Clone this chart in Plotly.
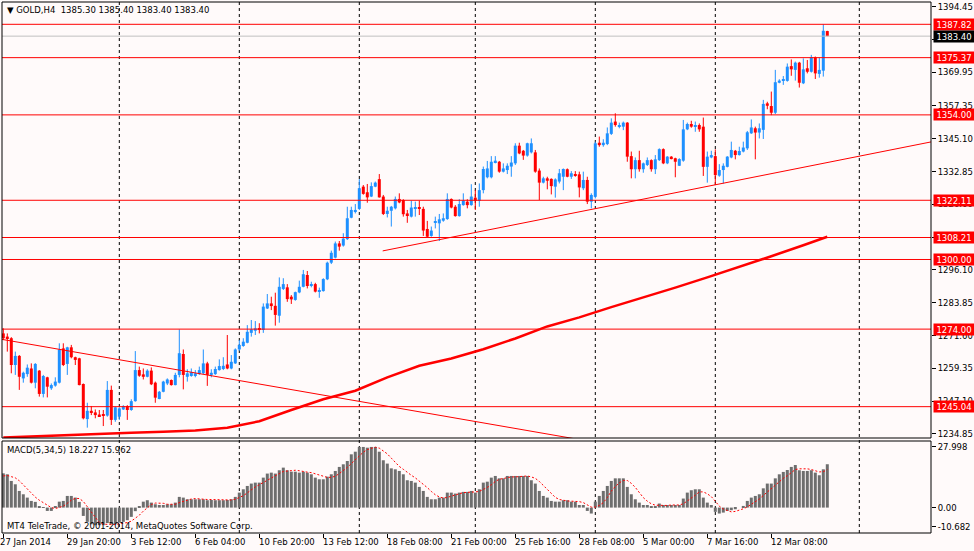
import plotly.graph_objects as go

# ---------------- DATA ----------------
opens = [1272.4, 1271.2, 1270.6, 1260.6, 1264.0, 1255.6, 1257.2, 1259.3, 1254.0, 1258.5,
         1249.8, 1256.0, 1251.9, 1252.9, 1254.0, 1266.8, 1261.0, 1267.2, 1263.5, 1263.1,
         1253.5, 1240.4, 1243.5, 1242.9, 1242.1, 1242.1, 1241.7, 1251.3, 1240.1, 1241.3,
         1244.0, 1245.3, 1243.8, 1247.1, 1258.7, 1257.1, 1256.2, 1258.5, 1254.0, 1247.9,
         1250.6, 1253.7, 1255.0, 1253.1, 1256.9, 1264.7, 1256.2, 1256.5, 1256.5, 1257.2,
         1257.5, 1261.2, 1256.9, 1257.2, 1258.7, 1259.1, 1260.8, 1259.3, 1261.2, 1266.4,
         1267.7, 1268.9, 1272.6, 1273.4, 1274.3, 1273.7, 1281.7, 1283.6, 1282.7, 1279.0,
         1289.0, 1289.6, 1286.1, 1284.9, 1287.7, 1289.8, 1294.2, 1290.1, 1290.8, 1288.0,
         1288.2, 1292.6, 1298.8, 1300.7, 1306.0, 1305.2, 1307.6, 1315.6, 1318.1, 1318.9,
         1327.2, 1325.1, 1323.5, 1327.2, 1330.0, 1323.5, 1317.0, 1318.2, 1319.1, 1322.6,
         1322.2, 1317.2, 1316.0, 1319.1, 1319.1, 1318.9, 1311.4, 1308.8, 1313.8, 1313.5,
         1314.5, 1315.1, 1322.6, 1319.7, 1316.2, 1320.3, 1321.6, 1320.3, 1323.1, 1321.9,
         1325.9, 1330.7, 1330.7, 1336.2, 1336.5, 1332.8, 1333.4, 1334.7, 1335.9, 1342.5,
         1340.6, 1338.8, 1340.0, 1340.0, 1333.2, 1328.7, 1330.3, 1330.1, 1327.2, 1329.1,
         1330.9, 1333.7, 1330.9, 1331.8, 1331.8, 1326.6, 1329.7, 1321.6, 1323.4, 1343.6,
         1342.7, 1343.1, 1346.9, 1351.5, 1349.6, 1349.6, 1351.1, 1338.6, 1333.7, 1337.1,
         1333.7, 1335.3, 1337.1, 1333.7, 1337.1, 1341.2, 1335.9, 1338.4, 1337.8, 1335.0,
         1336.9, 1348.6, 1350.6, 1349.6, 1350.2, 1349.6, 1334.6, 1338.1, 1338.6, 1331.3,
         1333.4, 1334.6, 1338.1, 1340.6, 1339.0, 1340.3, 1341.5, 1347.1, 1349.0, 1347.4,
         1348.4, 1358.3, 1357.3, 1354.8, 1366.0, 1366.7, 1366.7, 1372.2, 1370.8, 1373.5,
         1365.8, 1371.4, 1370.1, 1375.5, 1369.3, 1370.5, 1385.3]

highs = [1274.3, 1272.4, 1271.0, 1265.6, 1264.3, 1258.1, 1260.8, 1261.2, 1261.3, 1258.7,
         1256.9, 1256.2, 1253.7, 1256.0, 1268.7, 1268.7, 1267.4, 1268.1, 1263.7, 1263.3,
         1253.7, 1246.5, 1245.3, 1244.0, 1243.8, 1243.8, 1254.6, 1252.9, 1245.0, 1244.8,
         1245.6, 1245.6, 1247.8, 1265.8, 1260.0, 1259.3, 1259.0, 1259.7, 1254.4, 1250.9,
         1254.7, 1255.6, 1255.2, 1257.7, 1273.9, 1266.4, 1259.0, 1259.3, 1258.7, 1260.0,
         1266.4, 1261.8, 1259.0, 1260.0, 1262.7, 1263.5, 1271.8, 1264.3, 1266.8, 1269.9,
         1270.6, 1275.5, 1277.4, 1277.0, 1276.2, 1283.6, 1287.1, 1286.1, 1287.6, 1293.3,
         1293.0, 1290.8, 1286.7, 1288.0, 1292.1, 1296.1, 1295.7, 1291.7, 1291.3, 1289.5,
         1293.0, 1299.2, 1303.3, 1306.7, 1306.9, 1309.8, 1319.7, 1319.7, 1320.7, 1330.0,
         1327.8, 1328.2, 1328.8, 1329.1, 1331.9, 1324.1, 1319.7, 1320.0, 1323.5, 1324.7,
         1322.5, 1318.5, 1322.0, 1321.6, 1322.0, 1319.7, 1314.4, 1312.3, 1316.0, 1317.0,
         1317.2, 1324.7, 1322.8, 1320.3, 1322.5, 1324.7, 1322.5, 1328.1, 1325.9, 1328.4,
         1334.7, 1336.8, 1338.6, 1338.6, 1336.8, 1335.9, 1335.9, 1338.6, 1343.4, 1343.6,
         1340.9, 1343.6, 1345.2, 1340.9, 1334.0, 1330.9, 1330.9, 1330.3, 1330.3, 1333.8,
         1334.0, 1334.0, 1333.0, 1333.0, 1332.8, 1332.8, 1330.9, 1324.7, 1344.0, 1345.9,
         1344.9, 1349.3, 1352.7, 1354.6, 1351.1, 1351.5, 1351.3, 1340.3, 1338.1, 1340.6,
         1336.2, 1338.1, 1337.4, 1339.0, 1341.5, 1341.5, 1338.6, 1338.6, 1338.0, 1337.8,
         1352.1, 1351.1, 1351.8, 1351.5, 1350.8, 1353.0, 1340.3, 1340.6, 1341.1, 1335.6,
         1335.9, 1338.6, 1344.0, 1340.9, 1342.1, 1344.0, 1348.0, 1352.3, 1349.6, 1350.8,
         1359.6, 1358.9, 1362.7, 1370.8, 1367.3, 1368.5, 1373.2, 1374.7, 1373.9, 1373.8,
         1375.1, 1374.5, 1376.4, 1375.8, 1375.4, 1387.8, 1385.4]

lows = [1269.9, 1265.6, 1257.5, 1256.9, 1251.3, 1254.0, 1256.2, 1253.7, 1251.9, 1248.8,
        1248.5, 1248.5, 1251.3, 1252.5, 1253.7, 1260.2, 1256.9, 1263.1, 1260.6, 1253.0,
        1240.3, 1237.2, 1241.9, 1240.7, 1241.3, 1237.8, 1241.3, 1238.2, 1239.4, 1240.1,
        1243.8, 1240.1, 1243.5, 1246.9, 1256.2, 1255.2, 1256.0, 1253.1, 1246.5, 1247.8,
        1250.4, 1253.1, 1252.9, 1253.0, 1256.0, 1251.5, 1254.4, 1256.2, 1256.0, 1256.9,
        1257.2, 1252.8, 1256.0, 1256.9, 1258.5, 1258.7, 1259.0, 1259.0, 1261.0, 1265.9,
        1267.4, 1268.7, 1271.2, 1271.8, 1272.4, 1272.6, 1281.5, 1281.1, 1275.3, 1276.4,
        1288.6, 1284.2, 1283.4, 1284.6, 1287.4, 1289.6, 1289.2, 1289.6, 1287.7, 1285.7,
        1288.0, 1292.3, 1298.3, 1300.4, 1303.3, 1304.8, 1307.3, 1315.4, 1317.2, 1318.5,
        1324.2, 1321.2, 1323.3, 1327.0, 1323.1, 1316.6, 1315.7, 1312.3, 1318.7, 1321.0,
        1316.0, 1313.7, 1315.7, 1316.0, 1316.6, 1308.8, 1308.3, 1308.5, 1311.6, 1306.9,
        1314.1, 1314.8, 1319.1, 1316.0, 1316.0, 1320.1, 1319.1, 1320.1, 1318.5, 1319.7,
        1324.7, 1330.3, 1330.3, 1335.9, 1332.4, 1332.5, 1331.9, 1330.9, 1335.3, 1339.3,
        1337.2, 1338.4, 1339.6, 1332.4, 1322.2, 1328.4, 1326.2, 1324.3, 1323.1, 1328.4,
        1325.9, 1330.7, 1330.1, 1330.9, 1323.2, 1325.9, 1320.7, 1319.1, 1322.8, 1342.1,
        1342.1, 1342.7, 1346.5, 1349.6, 1349.0, 1348.3, 1336.5, 1330.3, 1330.3, 1332.8,
        1332.4, 1334.9, 1332.8, 1331.9, 1336.8, 1335.6, 1335.6, 1337.4, 1330.7, 1334.9,
        1336.5, 1348.3, 1349.2, 1347.7, 1347.7, 1331.2, 1328.7, 1337.8, 1327.8, 1330.9,
        1328.4, 1334.4, 1337.8, 1337.4, 1338.8, 1340.0, 1340.9, 1346.9, 1337.4, 1345.2,
        1345.0, 1356.1, 1353.9, 1354.3, 1365.8, 1365.2, 1366.4, 1368.6, 1366.8, 1364.2,
        1365.5, 1369.5, 1369.8, 1367.4, 1367.9, 1368.3, 1383.4]

closes = [1270.6, 1270.6, 1260.6, 1264.0, 1256.2, 1257.7, 1259.6, 1254.0, 1261.0, 1249.8,
          1256.5, 1252.5, 1253.1, 1254.4, 1266.4, 1260.6, 1267.2, 1263.5, 1262.5, 1253.1,
          1240.7, 1243.5, 1242.8, 1241.9, 1241.5, 1241.7, 1251.3, 1240.1, 1244.8, 1244.4,
          1245.3, 1243.8, 1247.1, 1258.7, 1256.6, 1256.2, 1258.5, 1253.4, 1248.4, 1250.6,
          1254.4, 1255.2, 1253.1, 1256.9, 1265.0, 1256.9, 1257.5, 1257.9, 1257.5, 1258.7,
          1261.2, 1256.9, 1257.7, 1259.1, 1260.2, 1260.3, 1259.3, 1261.8, 1266.4, 1268.1,
          1269.3, 1273.0, 1273.9, 1274.3, 1273.7, 1282.4, 1283.6, 1282.6, 1279.3, 1289.8,
          1290.8, 1285.2, 1285.1, 1287.8, 1289.8, 1294.5, 1290.1, 1290.8, 1288.0, 1288.6,
          1292.7, 1298.8, 1302.5, 1306.0, 1304.8, 1307.8, 1315.4, 1318.5, 1318.5, 1326.6,
          1324.5, 1323.2, 1327.4, 1328.7, 1323.2, 1317.0, 1318.2, 1319.7, 1322.6, 1321.3,
          1316.9, 1316.6, 1319.4, 1319.5, 1318.9, 1310.8, 1308.5, 1310.8, 1314.1, 1315.0,
          1315.4, 1322.6, 1319.4, 1316.2, 1320.7, 1322.0, 1320.3, 1323.5, 1321.9, 1325.9,
          1333.8, 1334.0, 1336.5, 1336.9, 1332.8, 1334.0, 1335.0, 1336.2, 1342.5, 1339.6,
          1338.8, 1343.4, 1343.4, 1332.8, 1328.7, 1330.3, 1329.4, 1327.4, 1329.9, 1332.2,
          1333.8, 1330.9, 1332.2, 1331.2, 1326.9, 1329.7, 1321.6, 1324.1, 1343.4, 1342.7,
          1343.6, 1347.1, 1351.1, 1350.2, 1350.2, 1351.1, 1338.4, 1333.7, 1337.1, 1333.7,
          1335.9, 1337.1, 1333.7, 1337.4, 1341.2, 1335.9, 1338.4, 1337.5, 1336.5, 1337.5,
          1348.6, 1350.6, 1349.6, 1350.2, 1348.6, 1334.6, 1338.4, 1339.0, 1331.5, 1333.4,
          1335.0, 1338.4, 1340.9, 1339.0, 1340.5, 1341.8, 1347.5, 1349.3, 1347.4, 1349.0,
          1358.1, 1357.4, 1354.8, 1366.2, 1366.8, 1367.3, 1372.0, 1371.0, 1373.5, 1366.0,
          1371.0, 1370.1, 1375.5, 1369.5, 1370.8, 1385.4, 1383.4]

macd_hist = [14.4, 14.0, 11.2, 9.8, 7.0, 5.6, 4.2, 2.8, 2.4, 0.3,
             0.2, -1.4, -1.4, 0.3, 2.5, 2.8, 4.9, 4.9, 4.2, 2.4,
             -3.5, -6.0, -7.0, -7.4, -7.4, -7.4, -6.5, -7.0, -7.0, -6.3,
             -6.0, -5.3, -3.9, -1.5, 0.5, 2.5, 3.1, 2.1, 1.4, 1.1,
             1.1, 1.4, 1.4, 2.1, 4.5, 4.2, 3.5, 3.5, 3.5, 3.5,
             3.5, 3.1, 3.2, 3.1, 3.1, 3.1, 3.2, 3.5, 4.5, 6.3,
             7.7, 9.1, 10.1, 10.5, 10.5, 12.6, 14.3, 14.7, 14.3, 15.7,
             16.8, 15.7, 15.1, 15.1, 14.7, 15.1, 14.7, 14.0, 12.6, 11.9,
             11.9, 13.0, 14.0, 15.4, 17.1, 18.2, 19.6, 22.4, 23.5, 25.5,
             25.5, 25.2, 25.5, 25.5, 23.5, 19.9, 18.5, 16.5, 16.1, 15.4,
             14.0, 11.5, 11.2, 10.5, 8.7, 7.0, 4.5, 3.5, 3.5, 4.2,
             4.2, 6.3, 6.3, 5.9, 6.3, 6.6, 6.6, 7.0, 6.3, 7.7,
             10.5, 10.9, 12.6, 13.3, 12.3, 12.3, 13.3, 13.3, 13.3, 13.3,
             13.3, 13.3, 11.5, 10.1, 7.0, 4.9, 4.2, 2.8, 2.5, 2.5,
             3.1, 3.1, 2.5, 2.5, 1.1, 1.1, -1.4, -2.5, 2.5, 4.9,
             7.0, 9.1, 11.2, 12.3, 12.3, 12.3, 8.7, 5.6, 3.5, 2.1,
             1.1, 1.1, 0.3, 0.3, 1.7, 1.1, 1.1, 1.1, 1.1, 1.1,
             3.8, 6.3, 7.3, 7.7, 7.7, 4.2, 2.1, 1.1, -1.8, -2.5,
             -2.1, -1.4, -1.1, -0.7, 0.0, 0.7, 2.8, 4.2, 4.9, 5.6,
             8.1, 10.1, 10.1, 12.3, 14.0, 15.0, 15.8, 17.1, 17.9, 15.7,
             15.4, 15.4, 15.7, 14.7, 13.6, 16.1, 18.227]

macd_signal = [13.3, 13.5, 13.0, 12.5, 11.3, 9.5, 7.6, 5.9, 4.4, 3.1,
               2.0, 0.9, 0.0, -0.4, 0.0, 0.6, 1.8, 3.1, 3.9, 3.8,
               2.6, 0.4, -2.0, -4.3, -6.3, -7.0, -7.1, -7.1, -7.1, -6.8,
               -6.6, -6.3, -5.7, -4.6, -3.2, -1.5, 0.1, 1.3, 1.9, 2.0,
               1.8, 1.4, 1.3, 1.4, 2.1, 2.7, 3.1, 3.6, 3.8, 3.6,
               3.5, 3.4, 3.4, 3.3, 3.2, 3.1, 3.1, 3.2, 3.5, 4.1,
               5.0, 6.2, 7.5, 8.7, 9.6, 10.6, 11.6, 12.5, 13.3, 14.3,
               15.2, 15.4, 15.5, 15.7, 15.5, 15.1, 14.9, 14.7, 14.2, 13.7,
               13.0, 12.7, 12.7, 13.2, 14.3, 15.5, 16.9, 18.5, 20.2, 21.8,
               23.3, 24.4, 25.0, 25.4, 25.0, 23.9, 22.6, 20.8, 18.9, 17.3,
               16.1, 14.7, 13.6, 12.5, 11.2, 9.8, 8.4, 6.8, 5.4, 4.5,
               4.0, 4.3, 4.9, 5.4, 5.8, 6.3, 6.3, 6.5, 6.6, 6.8,
               7.6, 8.5, 9.6, 11.0, 11.9, 12.3, 12.8, 12.9, 12.9, 13.1,
               13.3, 13.3, 12.9, 12.3, 11.0, 9.4, 7.5, 5.8, 4.3, 3.4,
               3.0, 2.8, 2.7, 2.7, 2.5, 2.1, 1.2, 0.2, 0.2, 0.9,
               2.1, 4.2, 6.9, 8.9, 10.4, 11.4, 11.4, 10.2, 8.5, 6.4,
               4.2, 2.7, 1.6, 1.0, 0.9, 0.9, 0.9, 1.1, 1.2, 1.1,
               1.6, 2.7, 3.9, 5.2, 6.6, 6.6, 5.8, 4.6, 2.7, 0.6,
               -0.6, -1.3, -1.8, -1.6, -1.1, -0.5, 0.3, 1.4, 2.5, 3.6,
               5.1, 6.6, 7.8, 9.2, 10.9, 12.3, 13.4, 14.8, 16.0, 16.3,
               16.4, 16.3, 16.0, 15.4, 15.0, 15.1, 15.962]

ma_bars = [0, 8, 16, 24, 32, 40, 48, 56, 64, 72, 80, 88, 96, 104, 112, 120,
           128, 136, 144, 152, 160, 168, 176, 184, 192, 200, 206]
ma_values = [1233.5, 1234.0, 1234.5, 1234.9, 1235.3, 1235.7, 1236.1, 1237.2,
             1239.6, 1243.8, 1247.8, 1251.0, 1256.0, 1260.3, 1263.0, 1266.5,
             1270.5, 1275.0, 1278.4, 1282.2, 1285.8, 1289.5, 1293.3, 1297.2,
             1301.2, 1305.3, 1308.5]

trend_down_bars = [-2.0, 145.0]
trend_down_prices = [1270.6, 1232.5]
trend_up_bars = [94.85, 240.0]
trend_up_prices = [1303.2, 1346.3]

level_prices = [1387.82, 1375.37, 1354.00, 1322.11, 1308.21, 1300.00, 1274.00, 1245.04]
bid_price = 1383.40

price_ticks = [1394.45, 1382.20, 1369.95, 1357.35, 1345.10, 1332.85, 1320.60,
               1308.35, 1296.10, 1283.85, 1271.60, 1259.35, 1247.10, 1234.85]

macd_min, macd_max = -10.682, 27.998
macd_tick_labels = ["27.998", "0.00", "-10.682"]

date_bars = [0, 16, 32, 48, 64, 80, 96, 112, 128, 144, 160, 176, 192]
date_labels = ["27 Jan 2014", "29 Jan 20:00", "3 Feb 12:00", "6 Feb 04:00",
               "10 Feb 20:00", "13 Feb 12:00", "18 Feb 08:00", "21 Feb 00:00",
               "25 Feb 16:00", "28 Feb 08:00", "5 Mar 00:00", "7 Mar 16:00",
               "12 Mar 08:00"]

grid_bars = [29, 59, 89, 118, 148, 178, 214]

header_text = "\u25BC GOLD,H4\u00a0\u00a01385.30 1385.40 1383.40 1383.40"
macd_text = "MACD(5,34,5) 18.227 15.962"
copyright_text = "MT4 TeleTrade, \u00a9 2001-2014, MetaQuotes Software Corp."

# ---------------- LAYOUT GEOMETRY ----------------
FONT = "DejaVu Sans"
FS = 8.5
W, H = 974, 551
ML, MR, MT, MB = 2, 43, 2, 18
PW = W - ML - MR
PH = H - MT - MB
BG = "#FFFAFA"
UP = "#1E90FF"
DN = "#FF0000"


def px_x(px):
    return (px - ML) / PW


def px_y(py):
    return (H - MB - py) / PH


main_dom = [px_y(438), 1.0]
macd_dom = [0.0, px_y(441)]
price_range = [1233.34, 1396.15]
x_range = [-0.325, 231.925]

n = len(closes)
idx = list(range(n))

wu_x, wu_y, wd_x, wd_y = [], [], [], []
body_base, body_h, body_col = [], [], []
for i, (o, h, l, c) in enumerate(zip(opens, highs, lows, closes)):
    up = c >= o
    if up:
        wu_x += [i, i, None]
        wu_y += [l, h, None]
    else:
        wd_x += [i, i, None]
        wd_y += [l, h, None]
    body_base.append(min(o, c))
    body_h.append(max(abs(c - o), 0.35))
    body_col.append(UP if up else DN)

fig = go.Figure()
fig.add_trace(go.Scatter(x=wu_x, y=wu_y, mode="lines", line=dict(color=UP, width=1),
                         xaxis="x", yaxis="y", hoverinfo="skip"))
fig.add_trace(go.Scatter(x=wd_x, y=wd_y, mode="lines", line=dict(color=DN, width=1),
                         xaxis="x", yaxis="y", hoverinfo="skip"))
fig.add_trace(go.Bar(x=idx, y=body_h, base=body_base, width=0.75,
                     marker=dict(color=body_col, line=dict(width=0)),
                     xaxis="x", yaxis="y", hoverinfo="skip"))
fig.add_trace(go.Scatter(x=ma_bars, y=ma_values, mode="lines",
                         line=dict(color="#FF0000", width=2.5), xaxis="x", yaxis="y"))
fig.add_trace(go.Scatter(x=trend_down_bars, y=trend_down_prices, mode="lines",
                         line=dict(color="#FF0000", width=1), xaxis="x", yaxis="y"))
fig.add_trace(go.Scatter(x=trend_up_bars, y=trend_up_prices, mode="lines",
                         line=dict(color="#FF0000", width=1), xaxis="x", yaxis="y"))
fig.add_trace(go.Bar(x=idx, y=macd_hist, width=0.75,
                     marker=dict(color="#6E6E6E", line=dict(width=0)),
                     xaxis="x", yaxis="y2", hoverinfo="skip"))
fig.add_trace(go.Scatter(x=idx, y=macd_signal, mode="lines",
                         line=dict(color="#FF0000", width=1, dash="2px,2px"),
                         xaxis="x", yaxis="y2"))

shapes = []
for g in grid_bars:
    shapes.append(dict(type="line", xref="x", yref="paper", x0=g, x1=g, y0=0, y1=1,
                       line=dict(color="black", width=1, dash="3px,3px"), layer="below"))
for lv in level_prices:
    shapes.append(dict(type="line", xref="paper", yref="y", x0=0, x1=1, y0=lv, y1=lv,
                       line=dict(color="#FF0000", width=1), layer="above"))
shapes.append(dict(type="line", xref="paper", yref="y", x0=0, x1=1, y0=bid_price, y1=bid_price,
                   line=dict(color="#C0C0C0", width=1), layer="above"))
for dom_ref in ["y domain", "y2 domain"]:
    shapes.append(dict(type="rect", xref="paper", yref=dom_ref, x0=0, x1=1, y0=0, y1=1,
                       line=dict(color="black", width=1), fillcolor="rgba(0,0,0,0)",
                       layer="above"))

annotations = []
font_black = dict(family=FONT, size=FS, color="black")
font_white = dict(family=FONT, size=FS, color="white")
for lv in level_prices:
    annotations.append(dict(xref="paper", yref="y", x=px_x(932.7), y=lv, xanchor="left",
                            yanchor="middle", text=f"{lv:.2f}", showarrow=False,
                            bgcolor="#FF0000", font=font_white, width=38, height=9,
                            borderpad=1, align="center"))
annotations.append(dict(xref="paper", yref="y", x=px_x(932.7), y=bid_price, xanchor="left",
                        yanchor="middle", text=f"{bid_price:.2f}", showarrow=False,
                        bgcolor="#000000", font=font_white, width=38, height=9,
                        borderpad=1, align="center"))
for k, (b, lab) in enumerate(zip(date_bars, date_labels)):
    annotations.append(dict(xref="x", yref="paper", x=b, y=px_y(541.5), xanchor="left",
                            yanchor="middle", text=lab, showarrow=False, font=font_black,
                            xshift=-5 if k == 0 else -2))
annotations.append(dict(xref="paper", yref="paper", x=px_x(5), y=px_y(10.5), xanchor="left",
                        yanchor="middle", text=header_text, showarrow=False, font=font_black))
annotations.append(dict(xref="paper", yref="paper", x=px_x(5), y=px_y(450), xanchor="left",
                        yanchor="middle", text=macd_text, showarrow=False, font=font_black))
annotations.append(dict(xref="paper", yref="paper", x=px_x(5), y=px_y(526), xanchor="left",
                        yanchor="middle", text=copyright_text, showarrow=False, font=font_black))

macd_span = macd_max - macd_min
macd_px = 533 - 441
macd_tick_vals = [macd_max - 5.7 * macd_span / macd_px, 0.0,
                  macd_min + 6.3 * macd_span / macd_px]

fig.update_layout(
    width=W, height=H,
    margin=dict(l=ML, r=MR, t=MT, b=MB, autoexpand=False),
    paper_bgcolor=BG, plot_bgcolor=BG,
    showlegend=False, barmode="overlay", hovermode=False,
    font=dict(family=FONT, size=FS, color="black"),
    xaxis=dict(domain=[0, 1], range=x_range, anchor="y2", showgrid=False, zeroline=False,
               showline=False, ticks="outside", ticklen=4, tickcolor="black",
               tickvals=date_bars, showticklabels=False, fixedrange=True),
    yaxis=dict(domain=main_dom, range=price_range, side="right", anchor="x",
               showgrid=False, zeroline=False, showline=False,
               tickvals=price_ticks, ticktext=[f"{v:.2f}" for v in price_ticks],
               ticks="outside", ticklen=4, tickcolor="black",
               tickfont=font_black, automargin=False, fixedrange=True),
    yaxis2=dict(domain=macd_dom, range=[macd_min, macd_max], side="right", anchor="x",
                showgrid=False, zeroline=False, showline=False,
                tickvals=macd_tick_vals, ticktext=macd_tick_labels,
                ticks="outside", ticklen=4, tickcolor="black",
                tickfont=font_black, automargin=False, fixedrange=True),
    shapes=shapes,
    annotations=annotations,
)

fig.write_html("out.html", config={"displayModeBar": False})

# remove the browser's default page margin so the figure sits at the window's corner
with open("out.html", "r", encoding="utf-8") as f:
    page = f.read()
page = page.replace("<head>", "<head><style>html,body{margin:0;padding:0;background:#FFFAFA;overflow:hidden;}</style>", 1)
with open("out.html", "w", encoding="utf-8") as f:
    f.write(page)
